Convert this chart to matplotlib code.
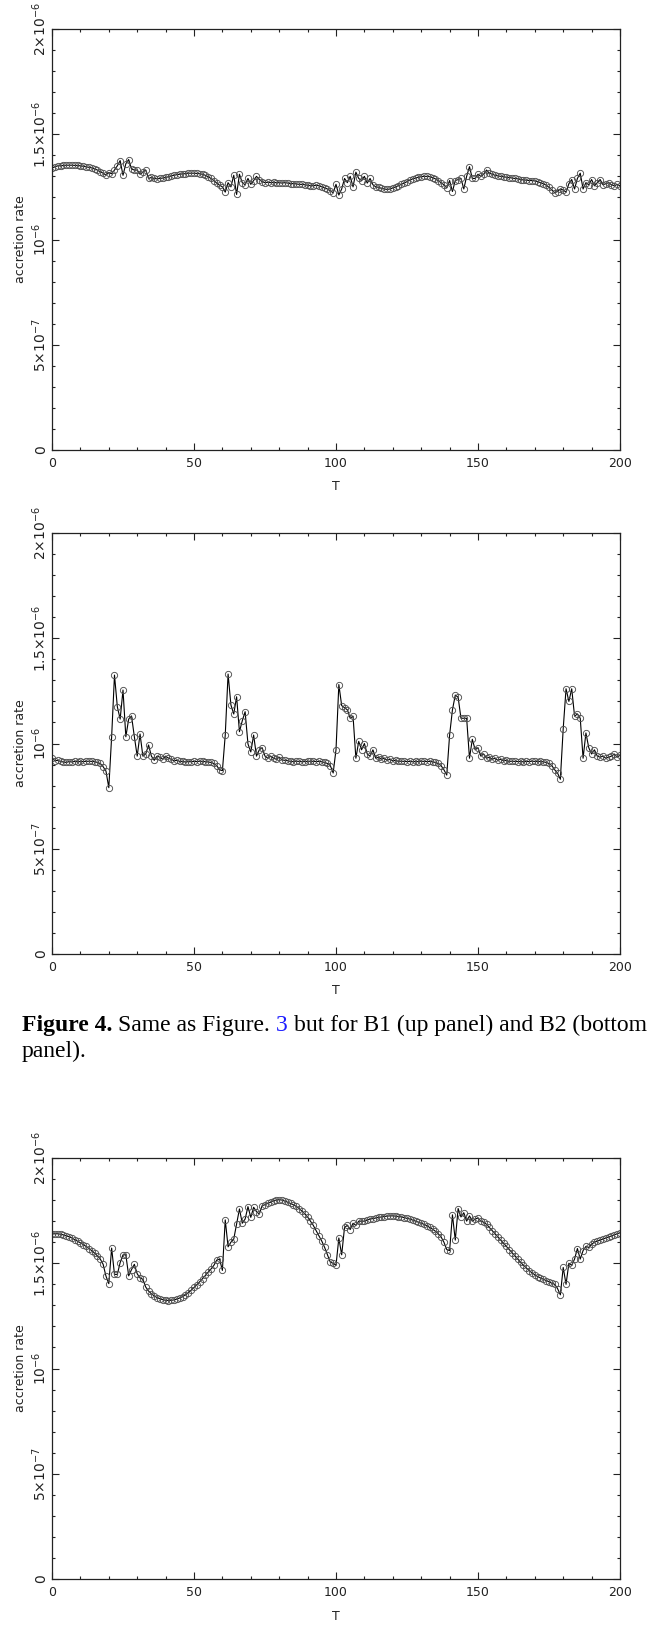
import numpy as np
import matplotlib
matplotlib.use("Agg")
import matplotlib.pyplot as plt
from matplotlib.ticker import MultipleLocator, FixedLocator, FixedFormatter

# accretion rate in units of 1e-6, sampled at T = 0..200
T = np.arange(0, 201)

rate_b1 = [
    1.34, 1.345, 1.35, 1.35, 1.352, 1.353, 1.353, 1.353, 1.352, 1.352,
    1.35, 1.348, 1.345, 1.343, 1.34, 1.335, 1.33, 1.322, 1.315, 1.306,
    1.318, 1.312, 1.33, 1.35, 1.375, 1.305, 1.36, 1.38, 1.335, 1.33,
    1.33, 1.31, 1.32, 1.33, 1.29, 1.295, 1.29, 1.288, 1.29, 1.292,
    1.295, 1.298, 1.302, 1.305, 1.308, 1.31, 1.312, 1.313, 1.315, 1.315,
    1.315, 1.314, 1.312, 1.31, 1.305, 1.298, 1.29, 1.28, 1.268, 1.258,
    1.25, 1.225, 1.27, 1.25, 1.305, 1.214, 1.31, 1.27, 1.26, 1.29,
    1.262, 1.28, 1.30, 1.285, 1.275, 1.27, 1.272, 1.27, 1.272, 1.27,
    1.27, 1.268, 1.27, 1.268, 1.265, 1.266, 1.264, 1.262, 1.262, 1.26,
    1.258, 1.256, 1.255, 1.258, 1.255, 1.25, 1.245, 1.24, 1.232, 1.222,
    1.262, 1.211, 1.24, 1.29, 1.27, 1.30, 1.25, 1.32, 1.29, 1.28,
    1.30, 1.268, 1.29, 1.26, 1.25, 1.248, 1.243, 1.24, 1.238, 1.24,
    1.245, 1.25, 1.256, 1.262, 1.268, 1.275, 1.282, 1.288, 1.292, 1.296,
    1.298, 1.30, 1.30, 1.298, 1.294, 1.288, 1.28, 1.27, 1.26, 1.245,
    1.28, 1.228, 1.28, 1.285, 1.29, 1.24, 1.30, 1.346, 1.29, 1.29,
    1.31, 1.30, 1.31, 1.33, 1.315, 1.31, 1.305, 1.302, 1.30, 1.298,
    1.296, 1.294, 1.292, 1.29, 1.288, 1.285, 1.283, 1.282, 1.28, 1.28,
    1.278, 1.275, 1.27, 1.265, 1.258, 1.248, 1.236, 1.222, 1.228, 1.24,
    1.235, 1.225, 1.265, 1.285, 1.24, 1.29, 1.315, 1.24, 1.27, 1.26,
    1.285, 1.255, 1.27, 1.285, 1.26, 1.265, 1.27, 1.26, 1.255, 1.262,
    1.255,
]

rate_b2 = [
    0.933, 0.918, 0.92, 0.915, 0.912, 0.91, 0.914, 0.912, 0.915, 0.913,
    0.915, 0.914, 0.915, 0.916, 0.915, 0.914, 0.91, 0.905, 0.89, 0.869,
    0.79, 1.032, 1.325, 1.175, 1.116, 1.254, 1.032, 1.116, 1.131, 1.032,
    0.94, 1.045, 0.94, 0.95, 0.993, 0.94, 0.92, 0.94, 0.935, 0.925,
    0.94, 0.93, 0.925, 0.918, 0.92, 0.915, 0.915, 0.912, 0.914, 0.913,
    0.915, 0.914, 0.916, 0.915, 0.914, 0.912, 0.91, 0.905, 0.895, 0.875,
    0.871, 1.04, 1.33, 1.183, 1.14, 1.222, 1.056, 1.108, 1.151, 0.998,
    0.96, 1.04, 0.94, 0.97, 0.98, 0.94, 0.93, 0.94, 0.93, 0.925,
    0.935, 0.922, 0.92, 0.918, 0.915, 0.914, 0.916, 0.915, 0.913, 0.914,
    0.915, 0.916, 0.915, 0.914, 0.915, 0.913, 0.91, 0.905, 0.895, 0.86,
    0.97, 1.28, 1.18, 1.17, 1.16, 1.12, 1.13, 0.93, 1.01, 0.97,
    1.00, 0.95, 0.94, 0.97, 0.93, 0.935, 0.925, 0.93, 0.92, 0.925,
    0.918, 0.92, 0.915, 0.916, 0.915, 0.914, 0.915, 0.913, 0.915, 0.914,
    0.916, 0.915, 0.914, 0.915, 0.913, 0.91, 0.905, 0.895, 0.875, 0.85,
    1.04, 1.16, 1.23, 1.22, 1.12, 1.12, 1.12, 0.93, 1.02, 0.97,
    0.98, 0.94, 0.95, 0.93, 0.935, 0.925, 0.93, 0.92, 0.925, 0.918,
    0.92, 0.915, 0.916, 0.915, 0.914, 0.915, 0.913, 0.915, 0.914, 0.916,
    0.915, 0.914, 0.915, 0.913, 0.91, 0.905, 0.895, 0.875, 0.86, 0.83,
    1.07, 1.26, 1.20, 1.26, 1.13, 1.14, 1.12, 0.93, 1.05, 0.98,
    0.95, 0.97, 0.94, 0.935, 0.94, 0.93, 0.935, 0.94, 0.95, 0.935,
    0.945,
]

rate_b3 = [
    1.639, 1.64, 1.64, 1.638, 1.635, 1.63, 1.626, 1.62, 1.612, 1.605,
    1.597, 1.589, 1.58, 1.57, 1.56, 1.548, 1.535, 1.52, 1.495, 1.439,
    1.403, 1.572, 1.447, 1.447, 1.503, 1.54, 1.54, 1.44, 1.47, 1.495,
    1.45, 1.43, 1.424, 1.387, 1.368, 1.355, 1.345, 1.337, 1.331, 1.327,
    1.324, 1.323, 1.324, 1.326, 1.33, 1.335, 1.342, 1.35, 1.36, 1.372,
    1.385, 1.398, 1.412, 1.427, 1.442, 1.458, 1.473, 1.49, 1.515, 1.52,
    1.466, 1.706, 1.578, 1.60, 1.615, 1.686, 1.758, 1.69, 1.71, 1.769,
    1.718, 1.766, 1.745, 1.734, 1.774, 1.778, 1.785, 1.79, 1.798, 1.80,
    1.802, 1.80, 1.795, 1.79, 1.784, 1.778, 1.77, 1.76, 1.748, 1.735,
    1.72, 1.70, 1.68, 1.655, 1.63, 1.605, 1.575, 1.54, 1.505, 1.50,
    1.49, 1.62, 1.54, 1.67, 1.68, 1.66, 1.69, 1.68, 1.70, 1.70,
    1.70, 1.705, 1.71, 1.712, 1.715, 1.718, 1.72, 1.722, 1.724, 1.725,
    1.725, 1.724, 1.722, 1.72, 1.717, 1.713, 1.71, 1.705, 1.70, 1.695,
    1.69, 1.685, 1.678, 1.67, 1.662, 1.652, 1.64, 1.625, 1.60, 1.565,
    1.56, 1.73, 1.61, 1.76, 1.72, 1.74, 1.70, 1.725, 1.70, 1.71,
    1.715, 1.70, 1.695, 1.685, 1.67, 1.655, 1.64, 1.625, 1.61, 1.595,
    1.58, 1.565, 1.55, 1.535, 1.52, 1.505, 1.49, 1.478, 1.465, 1.455,
    1.445, 1.437, 1.43, 1.424, 1.418, 1.412, 1.405, 1.40, 1.38, 1.35,
    1.48, 1.40, 1.50, 1.49, 1.52, 1.57, 1.52, 1.56, 1.58, 1.575,
    1.59, 1.60, 1.605, 1.61, 1.615, 1.62, 1.625, 1.63, 1.635, 1.64,
    1.645,
]

y_ticks = [0, 5e-7, 1e-6, 1.5e-6, 2e-6]
y_labels = ["0", r"$5{\times}10^{-7}$", r"$10^{-6}$",
            r"$1.5{\times}10^{-6}$", r"$2{\times}10^{-6}$"]
x_ticks = [0, 50, 100, 150, 200]

W, H = 647, 1625
ink = "#222222"

fig = plt.figure(figsize=(W / 100, H / 100), dpi=100)


def box(left, top, right, bottom):
    return [left / W, 1 - bottom / H, (right - left) / W, (bottom - top) / H]


panels = [(rate_b1, 29, 450), (rate_b2, 533, 954), (rate_b3, 1158, 1579)]
for data, top, bottom in panels:
    ax = fig.add_axes(box(52, top, 620, bottom))
    ax.plot(T, np.array(data) * 1e-6, color="black", lw=0.8, marker="o",
            ms=4.5, mfc="none", mec="#505050", mew=0.65)
    ax.set_xlim(0, 200)
    ax.set_ylim(0, 2e-6)
    ax.xaxis.set_major_locator(FixedLocator(x_ticks))
    ax.xaxis.set_minor_locator(MultipleLocator(10))
    ax.yaxis.set_major_locator(FixedLocator(y_ticks))
    ax.yaxis.set_major_formatter(FixedFormatter(y_labels))
    ax.yaxis.set_minor_locator(MultipleLocator(1e-7))
    ax.tick_params(which="both", direction="in", top=True, right=True,
                   color=ink, width=0.8, labelcolor=ink)
    ax.tick_params(which="major", length=5)
    ax.tick_params(which="minor", length=2.5)
    ax.tick_params(axis="x", pad=5, labelsize=9)
    ax.tick_params(axis="y", pad=2.5, labelsize=10)
    for lab in ax.get_yticklabels():
        lab.set_rotation(90)
        lab.set_va("center")
    for sp in ax.spines.values():
        sp.set_color(ink)
        sp.set_linewidth(0.9)
    fig.text(21 / W, 1 - (top + bottom) / 2 / H, "accretion rate",
             rotation=90, ha="center", va="center", fontsize=9, color=ink)
    fig.text(336 / W, 1 - (bottom + 37) / H, "T", ha="center", va="center",
             fontsize=9, color=ink)

# caption, set piece by piece so "Figure 4." is bold and the "3" is blue
serif = "Liberation Serif"
fig.canvas.draw()
renderer = fig.canvas.get_renderer()


def width_px(s, size, weight="normal"):
    t = fig.text(0, 0, s, fontsize=size, family=serif, weight=weight)
    w = t.get_window_extent(renderer).width
    t.remove()
    return w


line1 = [("Figure 4.", "bold", "black"), ("Same as Figure.", "normal", "black"),
         ("3", "normal", "#1a1aff"),
         ("but for B1 (up panel) and B2 (bottom", "normal", "black")]
size = 12
space = width_px("a a", size) - width_px("aa", size)
total = sum(width_px(s, size, w) for s, w, c in line1) + space * (len(line1) - 1)
size = size * 624 / total
space = width_px("a a", size) - width_px("aa", size)

x = 22
y1 = 1 - 1031 / H
for s, w, c in line1:
    fig.text(x / W, y1, s, fontsize=size, family=serif, weight=w, color=c,
             va="baseline")
    x += width_px(s, size, w) + space
fig.text(22 / W, 1 - 1057 / H, "panel).", fontsize=size, family=serif,
         va="baseline", color="black")

fig.savefig("out.png", dpi=100)
